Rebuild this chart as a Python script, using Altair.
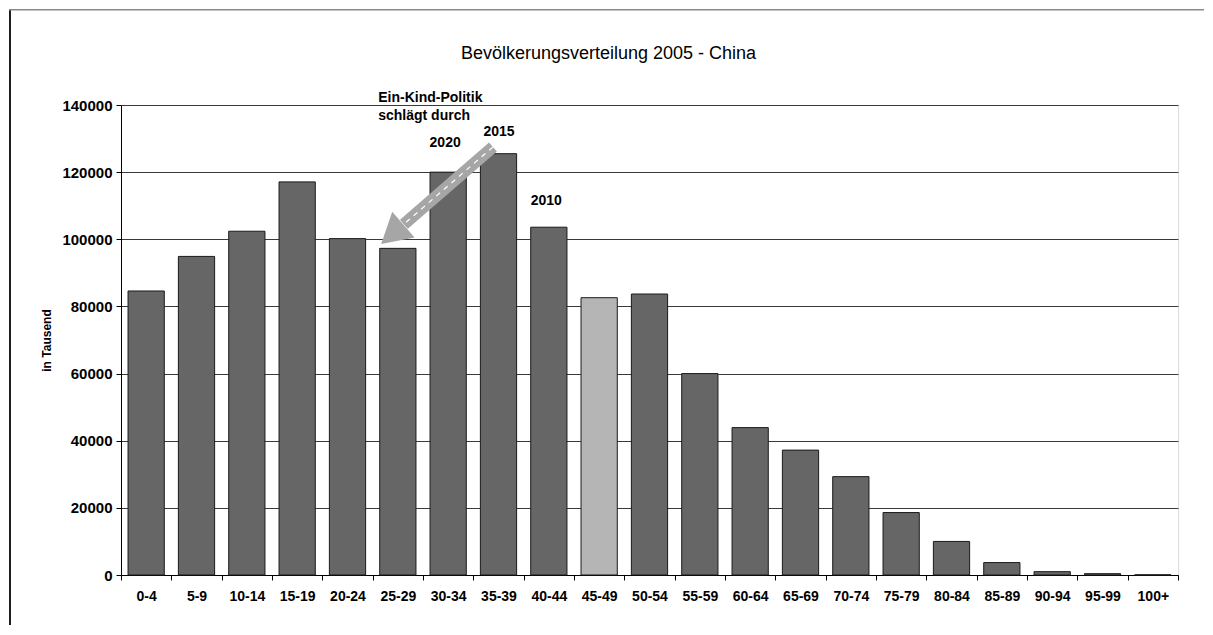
import altair as alt
import pandas as pd

# ---- data ----
groups = ["0-4", "5-9", "10-14", "15-19", "20-24", "25-29", "30-34", "35-39",
          "40-44", "45-49", "50-54", "55-59", "60-64", "65-69", "70-74",
          "75-79", "80-84", "85-89", "90-94", "95-99", "100+"]
population = [84600, 94900, 102400, 117100, 100200, 97300, 120000, 125500,
              103600, 82600, 83700, 60000, 43900, 37200, 29300,
              18600, 10000, 3700, 1000, 400, 50]
highlight_group = "45-49"

# year labels (x in category-index units, y in data units)
year_labels = ["2020", "2015", "2010"]
year_x = [6.44, 7.51, 8.45]
year_y = [128700, 132000, 111450]

# note text (left aligned)
note_lines = ["Ein-Kind-Politik", "schlägt durch"]
note_x = [5.11, 5.11]
note_y = [142070, 136720]

# arrow (start -> head base, head position)
arrow_x = [7.39]
arrow_x2 = [5.62]
arrow_y = [127500]
arrow_y2 = [104500]
head_x = [5.39]
head_y = [101500]

FONT = "Liberation Sans"
N = len(groups)
W, H = 1057, 470

bars_df = pd.DataFrame({
    "group": groups,
    "population": population,
    "shade": ["hi" if g == highlight_group else "lo" for g in groups],
})
years_df = pd.DataFrame({"label": year_labels, "ax": year_x, "ay": year_y})
note_df = pd.DataFrame({"label": note_lines, "ax": note_x, "ay": note_y})
arrow_df = pd.DataFrame({"ax": arrow_x, "ax2": arrow_x2, "ay": arrow_y, "ay2": arrow_y2})
head_df = pd.DataFrame({"ax": head_x, "ay": head_y})

yscale = alt.Scale(domain=[0, 140000], nice=False, zero=True)
yaxis = alt.Axis(
    values=list(range(0, 140001, 20000)), format="d",
    labelFont=FONT, labelFontSize=15, labelFontWeight="bold", labelColor="#000",
    labelPadding=4, tickSize=5, tickColor="#000", domainColor="#000",
    gridColor="#3a3a3a", gridWidth=1,
    title="in Tausend", titleFont=FONT, titleFontSize=12, titleFontWeight="bold",
    titleColor="#000", titlePadding=8,
)
qx = alt.Scale(domain=[0, N], nice=False, zero=False)

bars = alt.Chart(bars_df).mark_bar(
    width=alt.RelativeBandSize(0.72), stroke="#1a1a1a", strokeWidth=1
).encode(
    x=alt.X("group:N", sort=groups,
            scale=alt.Scale(paddingInner=0, paddingOuter=0),
            axis=alt.Axis(title=None, labelAngle=0, labelFont=FONT, labelFontSize=14,
                          labelFontWeight="bold", labelColor="#000", labelPadding=9,
                          tickBand="extent", tickSize=5, tickColor="#000",
                          domainColor="#000", grid=False)),
    y=alt.Y("population:Q", scale=yscale, axis=yaxis),
    color=alt.Color("shade:N", scale=alt.Scale(domain=["lo", "hi"],
                                               range=["#666666", "#b5b5b5"]),
                    legend=None),
)

arrow = alt.Chart(arrow_df).mark_rule(color="#a6a6a6", strokeWidth=12, strokeCap="butt").encode(
    x=alt.X("ax:Q", scale=qx, axis=None), x2="ax2:Q",
    y=alt.Y("ay:Q", scale=yscale, axis=yaxis), y2="ay2:Q",
)
arrow_dash = alt.Chart(arrow_df).mark_rule(color="#ffffff", strokeWidth=1.2,
                                           strokeDash=[5, 5]).encode(
    x=alt.X("ax:Q", scale=qx, axis=None), x2="ax2:Q",
    y=alt.Y("ay:Q", scale=yscale, axis=yaxis), y2="ay2:Q",
)
head = alt.Chart(head_df).mark_point(shape="triangle-up", filled=True, size=1156,
                                     angle=229, color="#a6a6a6", opacity=1).encode(
    x=alt.X("ax:Q", scale=qx, axis=None),
    y=alt.Y("ay:Q", scale=yscale, axis=yaxis),
)

years = alt.Chart(years_df).mark_text(font=FONT, fontSize=14, fontWeight="bold",
                                      color="#000", baseline="middle", align="center").encode(
    x=alt.X("ax:Q", scale=qx, axis=None),
    y=alt.Y("ay:Q", scale=yscale, axis=yaxis),
    text="label:N",
)
notes = alt.Chart(note_df).mark_text(font=FONT, fontSize=14, fontWeight="bold",
                                     color="#000", baseline="middle", align="left").encode(
    x=alt.X("ax:Q", scale=qx, axis=None),
    y=alt.Y("ay:Q", scale=yscale, axis=yaxis),
    text="label:N",
)

# outer frame (left and top border of the chart box)
frame_left = alt.Chart(head_df).mark_rule(color="#1e1e1e", strokeWidth=2).encode(
    x=alt.value(-111), y=alt.value(-96), y2=alt.value(520))
frame_top = alt.Chart(head_df).mark_rule(color="#8a8a8a", strokeWidth=1.5).encode(
    x=alt.value(-112), x2=alt.value(1083), y=alt.value(-95.25))

chart = alt.layer(
    bars, arrow, arrow_dash, head, years, notes, frame_left, frame_top
).resolve_scale(x="independent").properties(
    width=W, height=H, padding=0,
    title=alt.Title("Bevölkerungsverteilung 2005 - China", font=FONT, fontSize=18,
                    fontWeight="normal", color="#000", anchor="middle", dx=-41,
                    offset=-55),
).configure_view(stroke="#808080", strokeWidth=1).configure(background="white")

chart.save("out.html", embed_options={"renderer": "svg", "actions": False})
